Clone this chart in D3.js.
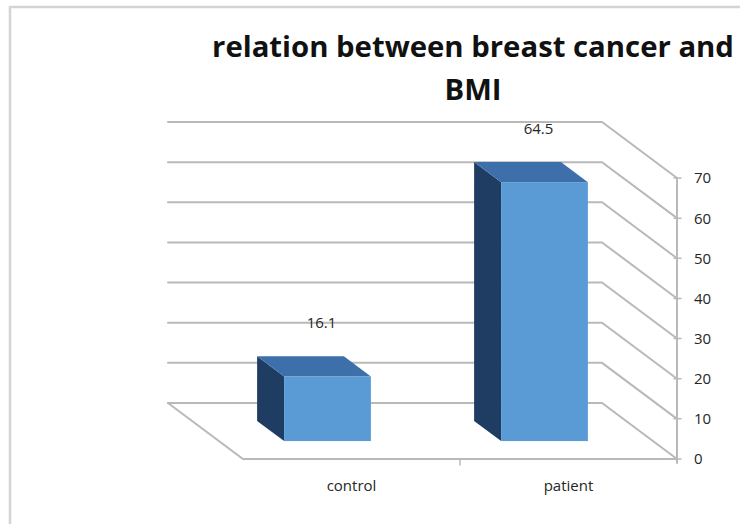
<!DOCTYPE html>
<html>
<head>
<meta charset="utf-8">
<script src="https://cdn.jsdelivr.net/npm/d3@7"></script>
<style>
  html, body { margin: 0; padding: 0; background: #ffffff; }
  svg { display: block; }
</style>
</head>
<body>
<svg id="chart" width="740" height="524"></svg>
<script>
// Chart data
const categories = ["control", "patient"];
const values = [16.1, 64.5];
const tickValues = [0, 10, 20, 30, 40, 50, 60, 70];
const titleLines = ["relation between breast cancer and", "BMI"];

const svg = d3.select("#chart");
const W = 740, H = 524;

// Oblique 3D frame: back wall origin, wall width, wall height, depth vector
const wall = { x0: 168, y0: 403, width: 434, height: 281 };
const depth = { dx: 75, dy: 56 };

const x = d3.scaleBand().domain(categories).range([0, wall.width])
  .paddingInner(0.6).paddingOuter(0.3);
const xCat = d3.scaleBand().domain(categories).range([0, wall.width]);
const y = d3.scaleLinear().domain([0, 70]).range([0, wall.height]);

// project (horizontal offset, value, depth fraction) to screen
function proj(px, v, d) {
  return [wall.x0 + px + depth.dx * d, wall.y0 - y(v) + depth.dy * d];
}
const line = d3.line();

// chart frame border
svg.append("path")
  .attr("d", line([[10, H], [10, 7], [W, 7]]))
  .attr("fill", "none").attr("stroke", "#d4d4d4").attr("stroke-width", 2.5);

// title
const title = svg.append("text")
  .attr("text-anchor", "middle")
  .attr("font-family", "'Open Sans', sans-serif")
  .attr("font-weight", 700)
  .attr("fill", "#111");
title.selectAll("tspan").data(titleLines).join("tspan")
  .attr("x", 473)
  .attr("y", (d, i) => 57 + i * 43)
  .text(d => d);
// fit the first line to its width
title.attr("font-size", 26);
const t0 = title.select("tspan").node().getComputedTextLength();
title.attr("font-size", 26 * 522 / t0);

const grid = svg.append("g")
  .attr("fill", "none").attr("stroke", "#b9b9b9").attr("stroke-width", 2)
  .attr("stroke-linecap", "round");

// back wall gridlines and right wall gridlines
tickValues.forEach(v => {
  grid.append("path").attr("d", line([
    proj(0, v, 0), proj(wall.width, v, 0), proj(wall.width, v, 1)
  ]));
});
// floor edges
grid.append("path").attr("d", line([
  proj(0, 0, 0), proj(0, 0, 1), proj(wall.width, 0, 1)
]));

// right value axis
const axisX = proj(wall.width, 0, 1)[0];
grid.append("path").attr("d", line([
  proj(wall.width, 70, 1), [axisX, proj(wall.width, 0, 1)[1] + 4]
]));
tickValues.forEach(v => {
  const p = proj(wall.width, v, 1);
  grid.append("path").attr("d", line([[p[0] - 3, p[1]], [p[0] + 4, p[1]]]))
    .attr("stroke-width", 1.5);
});
svg.append("g")
  .attr("font-family", "'Open Sans', sans-serif")
  .attr("font-size", 15).attr("fill", "#262626")
  .selectAll("text").data(tickValues).join("text")
  .attr("x", axisX + 17)
  .attr("y", v => proj(wall.width, v, 1)[1])
  .attr("dy", "0.36em")
  .text(v => v);

// category tick on the front floor edge
const midTick = proj(xCat.step(), 0, 1);
grid.append("path").attr("d", line([midTick, [midTick[0], midTick[1] + 6]]))
  .attr("stroke-width", 1.5);

// category labels
svg.append("g")
  .attr("font-family", "'Open Sans', sans-serif")
  .attr("font-size", 15).attr("fill", "#262626").attr("text-anchor", "middle")
  .selectAll("text").data(categories).join("text")
  .attr("x", c => proj(xCat(c) + xCat.bandwidth() / 2, 0, 1)[0])
  .attr("y", 491)
  .text(c => c);

// 3D columns
const dBack = 0.32, dFront = 0.68;
const bars = svg.append("g");
categories.forEach((c, i) => {
  const v = values[i];
  const l = x(c), r = x(c) + x.bandwidth();
  const g = bars.append("g");
  // left side face
  g.append("path").attr("d", line([
    proj(l, v, dBack), proj(l, v, dFront), proj(l, 0, dFront), proj(l, 0, dBack)
  ]) + "Z").attr("fill", "#1f3d63");
  // top face
  g.append("path").attr("d", line([
    proj(l, v, dBack), proj(r, v, dBack), proj(r, v, dFront), proj(l, v, dFront)
  ]) + "Z").attr("fill", "#3d70ab");
  // front face
  const a = proj(l, v, dFront), b = proj(r, 0, dFront);
  g.append("rect")
    .attr("x", a[0]).attr("y", a[1])
    .attr("width", b[0] - a[0]).attr("height", b[1] - a[1])
    .attr("fill", "#5b9bd5");
});

// value labels
svg.append("g")
  .attr("font-family", "'Open Sans', sans-serif")
  .attr("font-size", 15).attr("fill", "#262626").attr("text-anchor", "middle")
  .selectAll("text").data(categories).join("text")
  .attr("x", c => proj(x(c) + x.bandwidth() / 2, 0, dFront)[0] - 6)
  .attr("y", (c, i) => proj(0, values[i], dBack)[1] - 28)
  .text((c, i) => values[i]);
</script>
</body>
</html>
